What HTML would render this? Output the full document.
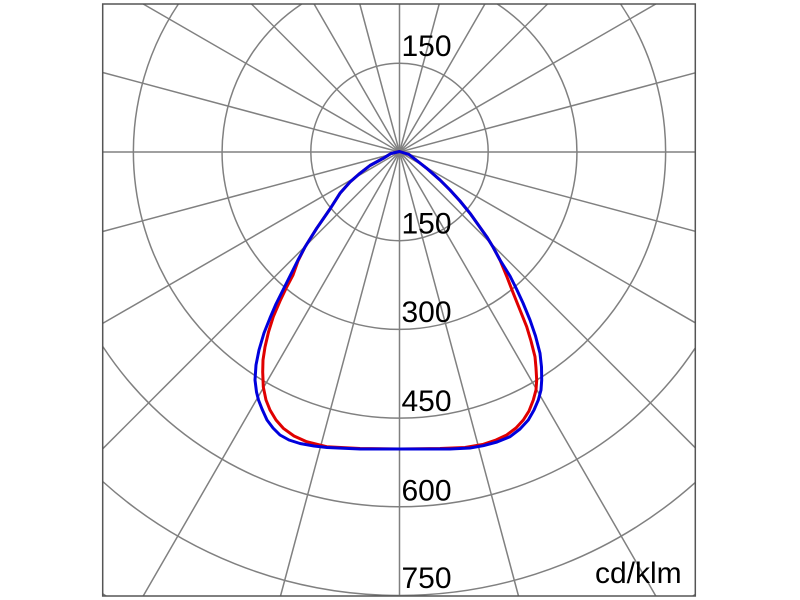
<!DOCTYPE html>
<html><head><meta charset="utf-8"><style>
html,body{margin:0;padding:0;background:#fff;width:800px;height:600px;overflow:hidden;}
svg{display:block;position:absolute;left:0;top:0;}
text{font-family:"Liberation Sans",Arial,sans-serif;font-size:30px;fill:#000;}
</style></head><body>
<svg width="800" height="600" viewBox="0 0 800 600" xmlns="http://www.w3.org/2000/svg">
<rect x="0" y="0" width="800" height="600" fill="#fff"/>
<g stroke="#808080" stroke-width="1.5" fill="none">
<line x1="102.7" y1="152" x2="695.3" y2="152"/>
<line x1="102.7" y1="72.5" x2="695.3" y2="231.3"/>
<line x1="143.2" y1="4" x2="695.3" y2="322.8"/>
<line x1="251.5" y1="4" x2="695.3" y2="447.8"/>
<line x1="314.1" y1="4" x2="655.8" y2="596"/>
<line x1="359.8" y1="4" x2="518.5" y2="596"/>
<line x1="399.5" y1="4" x2="399.5" y2="596"/>
<line x1="439.2" y1="4" x2="280.5" y2="596"/>
<line x1="484.9" y1="4" x2="143.2" y2="596"/>
<line x1="547.5" y1="4" x2="102.7" y2="448.8"/>
<line x1="655.8" y1="4" x2="102.7" y2="323.4"/>
<line x1="695.3" y1="72.8" x2="102.7" y2="231.5"/>
<circle cx="399.5" cy="152" r="88.7"/>
<path d="M497.3,4 A177.4,177.4 0 1 1 301.7,4"/>
<path d="M620.6,4 A266.1,266.1 0 1 1 178.4,4"/>
<path d="M695.3,347.9 A354.8,354.8 0 0 1 102.7,346.4"/>
<path d="M695.3,482.4 A443.5,443.5 0 0 1 102.7,481.5"/>
<path d="M695.3,594.4 L692.9,596 M106.1,596 L102.7,593.8"/>
</g>
<rect x="102.7" y="4" width="592.6" height="592" fill="none" stroke="#555" stroke-width="1.5"/>
<g fill="none" stroke-width="3" stroke-linejoin="round" stroke-linecap="round">
<polyline stroke="#e00000" points="399.5,151.5 391,153.5 383.3,158.3 370,165.5 360,173.3 350,182 340,193.3 330,209 316.7,228.3 305,247 298,261 293,275 286.7,287 280,301 273.3,316.7 268.5,332 265,347 263,360 262.7,372 263.3,387 266,400 270,410 276,420 283.3,428.3 294,436 306.7,441.7 326.7,446.7 360,448.5 400,449 440,448.5 465,447.5 483.3,444.3 496,440 506.7,435 516,428 523.3,420 529,411 533.3,400 536,390 536.7,380 536,368 535,356.7 531,341 526.7,326.7 520,310 513.3,293.3 507,277 500,260 493,247 486.7,236.7 470,213.3 460,201 450,190 440,180 426.7,168.3 418,161.5 409,154.5 399.5,151.5"/>
<polyline stroke="#0000dd" points="399.5,151.5 391,153.5 383.3,158.3 370,165.5 360,173.3 350,182 340,193.3 330,209 316.7,228.3 305,247 298,260 290,276 283,290 276,304 270,318 264,333 259,350 256,365 255,380 256.5,392 258.5,400 262,409 267,420 273,428 280,435 289,440 300,443.5 314,446 327,447.5 360,449 400,449 450,449 470,448 483.3,445.7 497,442 510,436.7 520,429 528.3,420 534,410 538.3,400 541,390 541.7,380 541.5,367 540,353.3 535.5,336 530,320 523,303 516.5,289 510,276 505,268 500,260 493,247 486.7,236.7 470,213.3 460,201 450,190 440,180 426.7,168.3 418,161.5 409,154.5 399.5,151.5"/>
</g>
<text x="401.5" y="56">150</text>
<text x="401.5" y="233.5">150</text>
<text x="401.5" y="322">300</text>
<text x="401.5" y="411">450</text>
<text x="401.5" y="500.5">600</text>
<text x="401.5" y="588">750</text>
<text x="595" y="583">cd/klm</text>
</svg>
</body></html>
